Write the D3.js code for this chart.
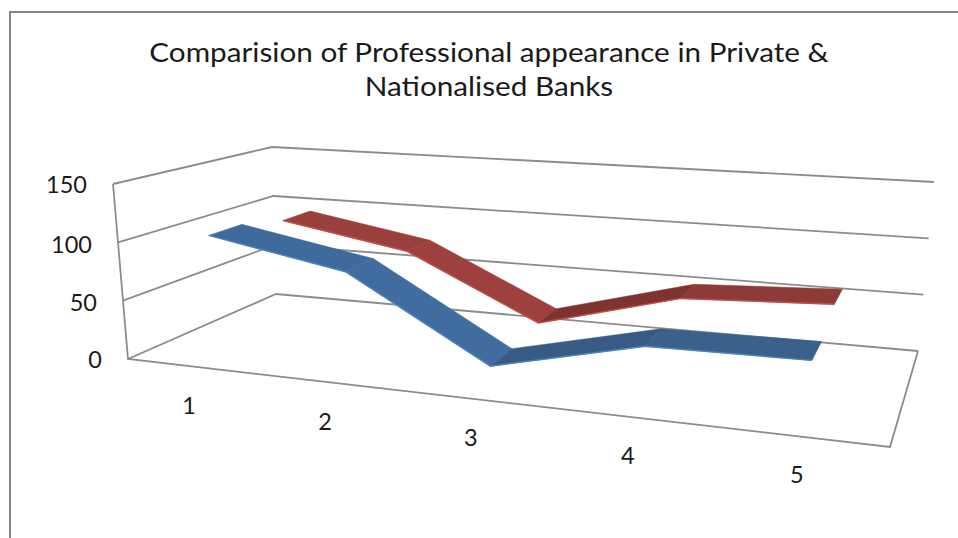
<!DOCTYPE html>
<html><head><meta charset="utf-8">
<script src="https://cdn.jsdelivr.net/npm/d3@7"></script>
<style>html,body{margin:0;padding:0;background:#fff}svg{display:block}text{font-family:Lato,"Open Sans",sans-serif;fill:#1a1a1a}</style>
</head><body><svg id="c" width="958" height="538"></svg>
<script>
const titleLines = ["Comparision of Professional appearance in Private &", "Nationalised Banks"];
const categories = [1, 2, 3, 4, 5];
const yTicks = [0, 50, 100, 150];
const seriesA = [104, 83, 16, 45, 47];
const seriesB = [95, 75, 20, 53, 59];
const seriesNames = ["Private", "Nationalised"];

const svg = d3.select("#c");
const W = 958, H = 538;
svg.append("path").attr("d", `M10,${H}V12H${W}`).attr("fill", "none").attr("stroke", "#868686").attr("stroke-width", 2);

const box = {
  f0l: [128, 359], f0r: [890, 447], b0l: [276, 294], b0r: [918, 351],
  f1l: [113, 184], f1r: [908, 245], b1l: [272, 147], b1r: [934, 182]
};
const lerp = (a, b, t) => [a[0] + (b[0] - a[0]) * t, a[1] + (b[1] - a[1]) * t];
const vScale = d3.scaleLinear().domain([0, 150]).range([0, 1]);
const persp = 1.2;
const catS = d3.scaleLinear().domain([0.5, 5.5]).range([0, 1]);
const uScale = c => { const s = catS(c); return s / (s + persp * (1 - s)); };
function project(c, w, v) {
  const u = uScale(c), t = vScale(v);
  const f0 = lerp(box.f0l, box.f0r, u), b0 = lerp(box.b0l, box.b0r, u);
  const f1 = lerp(box.f1l, box.f1r, u), b1 = lerp(box.b1l, box.b1r, u);
  return lerp(lerp(f0, b0, w), lerp(f1, b1, w), t);
}
const line = d3.line();
const gridC = "#8c8c8c";
const g = svg.append("g").attr("fill", "none").attr("stroke", gridC).attr("stroke-width", 1.8);
yTicks.forEach(v => {
  g.append("path").attr("d", line([project(0.5, 0, v), project(0.5, 1, v), project(5.5, 1, v)]));
});
g.append("path").attr("d", line([project(0.5, 0, 150), project(0.5, 0, 0), project(5.5, 0, 0), project(5.5, 1, 0)]));

yTicks.forEach(v => {
  const p = project(0.5, 0, v);
  svg.append("text").attr("x", p[0] - 26).attr("y", p[1] + 9 + (v === 100 ? 2 : v === 50 ? 1 : 0)).attr("text-anchor", "end")
    .attr("font-size", 23.5).text(v);
});
categories.forEach(c => {
  const p = project(c, 0, 0);
  svg.append("text").attr("x", p[0] - 3.5).attr("y", p[1] + 48 - (c - 1) * 0.3).attr("text-anchor", "middle")
    .attr("font-size", 23.5).text(c);
});

function ribbon(vals, w0, w1, fills, rim) {
  const gr = svg.append("g");
  for (let i = 0; i < vals.length - 1; i++) {
    const a = categories[i], b = categories[i + 1];
    gr.append("path").attr("fill", fills[i]).attr("stroke", fills[i]).attr("stroke-width", 0.5)
      .attr("d", line([project(a, w0, vals[i]), project(a, w1, vals[i]), project(b, w1, vals[i + 1]), project(b, w0, vals[i + 1])]) + "Z");
  }
  gr.append("path").attr("fill", "none").attr("stroke", rim).attr("stroke-width", 1.5)
    .attr("d", line(categories.map((c, i) => project(c, w0, vals[i]))));
}
ribbon(seriesB, 0.68, 0.87, ["#9a403c", "#9e413e", "#7f3330", "#8d3b38"], "#c0504d");
ribbon(seriesA, 0.17, 0.4, ["#3f6a9c", "#416c9f", "#375b85", "#3a608c"], "#4f81bd");

titleLines.forEach((t, i) => {
  svg.append("text").attr("transform", `translate(489,${61.5 + i * 34}) scale(1.1,1)`).attr("text-anchor", "middle")
    .attr("font-size", 27).text(t);
});
</script></body></html>
